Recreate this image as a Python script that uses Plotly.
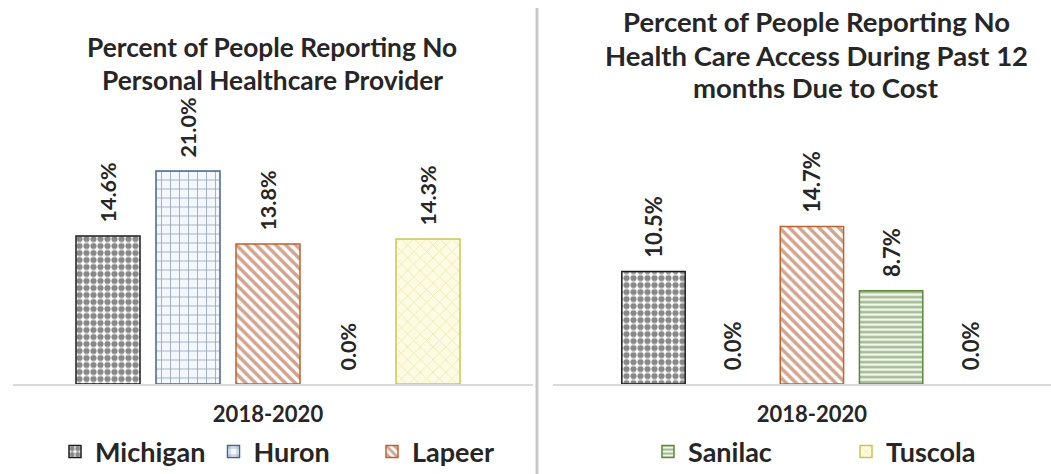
import plotly.graph_objects as go

# ---- data ----
period = ["2018-2020"]
counties = ["Michigan", "Huron", "Lapeer", "Sanilac", "Tuscola"]
no_provider_pct = [14.6, 21.0, 13.8, 0.0, 14.3]
no_access_cost_pct = [10.5, 0.0, 14.7, 8.7, 0.0]
left_title_lines = ["Percent of People Reporting No", "Personal Healthcare Provider"]
right_title_lines = ["Percent of People Reporting No", "Health Care Access During Past 12",
                     "months Due to Cost"]
# which legend box shows which county (taken from whichever chart draws a bar for it)
left_chart_legend = {"Michigan": "legend", "Huron": "legend", "Lapeer": "legend", "Tuscola": "legend2"}
right_chart_legend = {"Sanilac": "legend2"}

# ---- layout helpers ----
W, H = 1051, 474


def X(px):
    return px / W


def Y(px):
    return 1 - px / H


FONT = "Lato"
TXT = "#262626"
styles = {
    "Michigan": dict(fg="#111111", bg="#ffffff", shape=".", size=7, solid=0.62, line="#1a1a1a"),
    "Huron": dict(fg="#2f557f", bg="#f4f8fc", shape="+", size=9, solid=0.18, line="#3f6592"),
    "Lapeer": dict(fg="#a8481a", bg="#ffffff", shape="\\", size=7, solid=0.5, line="#c0622a"),
    "Sanilac": dict(fg="#3f6e22", bg="#f2f7ee", shape="-", size=5, solid=0.45, line="#5b8a34"),
    "Tuscola": dict(fg="#dedd78", bg="#fdfbe3", shape="x", size=9, solid=0.2, line="#c9c84a"),
}

fig = go.Figure()


def add_bars(values, xa, ya, legend_map, label_size):
    for rank, (name, v) in enumerate(zip(counties, values)):
        s = styles[name]
        fig.add_trace(go.Bar(
            x=period, y=[v], name=name,
            xaxis=xa, yaxis=ya,
            legend=legend_map.get(name, "legend"), showlegend=name in legend_map,
            legendrank=rank + 1,
            marker=dict(
                color=s["bg"],
                line=dict(color=s["line"] if v > 0 else "rgba(0,0,0,0)", width=1.5),
                pattern=dict(shape=s["shape"], fgcolor=s["fg"], bgcolor=s["bg"],
                             size=s["size"], solidity=s["solid"], fillmode="overlay"),
            ),
            text=[f"\u00a0\u00a0{v:.1f}%"],
            textposition="outside", textangle=-90,
            outsidetextfont=dict(family=FONT, size=label_size, color=TXT, weight="bold"),
            cliponaxis=False, constraintext="none",
            hoverinfo="skip",
        ))


add_bars(no_provider_pct, "x", "y", left_chart_legend, 21.5)
add_bars(no_access_cost_pct, "x2", "y2", right_chart_legend, 22)

axis_common = dict(showgrid=False, zeroline=False, ticks="", showline=True,
                   linecolor="#d9d9d9", linewidth=1.5,
                   tickfont=dict(family=FONT, size=22, color=TXT, weight="bold"),
                   ticklabelstandoff=10, type="category")
yaxis_common = dict(visible=False, showgrid=False, zeroline=False)
legend_font = dict(family=FONT, size=27, color=TXT, weight="bold")

annotations = []
for line, yc in zip(left_title_lines, [47, 80]):
    annotations.append(dict(text=line, xref="paper", yref="paper", x=X(272), y=Y(yc),
                            xanchor="center", yanchor="middle", showarrow=False,
                            font=dict(family=FONT, size=26.3, color=TXT, weight="bold")))
for line, yc in zip(right_title_lines, [22, 55, 88]):
    annotations.append(dict(text=line, xref="paper", yref="paper", x=X(816), y=Y(yc),
                            xanchor="center", yanchor="middle", showarrow=False,
                            font=dict(family=FONT, size=27.5, color=TXT, weight="bold")))

fig.update_layout(
    width=W, height=H, autosize=False,
    margin=dict(l=0, r=0, t=0, b=0, autoexpand=False),
    paper_bgcolor="white", plot_bgcolor="white",
    barmode="group", bargap=0.2, bargroupgap=0.2,
    xaxis=dict(domain=[X(13), X(533)], range=[-0.51, 0.53], anchor="y", **axis_common),
    xaxis2=dict(domain=[X(553), X(1051)], range=[-0.523, 0.483], anchor="y2", **axis_common),
    yaxis=dict(domain=[Y(384), Y(130.5)], range=[0, 25], anchor="x", **yaxis_common),
    yaxis2=dict(domain=[Y(384), Y(169.6)], range=[0, 20], anchor="x2", **yaxis_common),
    legend=dict(orientation="h", x=X(55), xanchor="left", y=Y(452), yanchor="middle",
                font=legend_font, bgcolor="rgba(0,0,0,0)", itemwidth=30,
                entrywidth=113.5, entrywidthmode="pixels"),
    legend2=dict(orientation="h", x=X(648), xanchor="left", y=Y(452), yanchor="middle",
                 font=legend_font, bgcolor="rgba(0,0,0,0)", itemwidth=30,
                 entrywidth=153, entrywidthmode="pixels"),
    annotations=annotations,
    shapes=[dict(type="line", xref="paper", yref="paper", x0=X(537), x1=X(537),
                 y0=0, y1=Y(8), line=dict(color="#c8c8c8", width=3))],
    showlegend=True,
)

# remove the default 8px page margin so the figure sits at the window's top-left corner
fig.write_html("out.html", config={"displayModeBar": False},
               post_script="document.body.style.margin='0';")
